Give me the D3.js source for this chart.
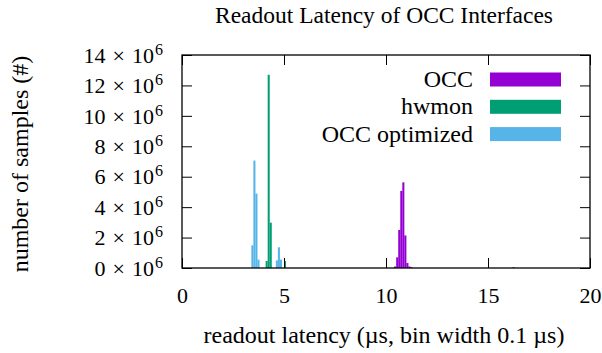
<!DOCTYPE html>
<html><head><meta charset="utf-8">
<script src="https://cdn.jsdelivr.net/npm/d3@7"></script>
<style>body{margin:0;background:#fff}
svg text, svg .tick text{font-family:"Liberation Serif","Times New Roman",Times,"DejaVu Serif",serif !important;fill:#000}</style>
</head><body><svg id="c" width="602" height="353"></svg>
<script>
// bin left edges (µs) and counts, bin width 0.1 µs
const occBins = [10.4, 10.5, 10.6, 10.7, 10.8, 10.9, 11.0, 11.1, 11.2, 16.2];
const occCounts = [0.1e6, 0.7e6, 2.5e6, 5.07e6, 5.63e6, 2.14e6, 0.33e6, 0.1e6, 0.05e6, 0.05e6];
const hwmonBins = [4.1, 4.2, 4.3, 5.0];
const hwmonCounts = [0.46e6, 12.7e6, 2.98e6, 0.45e6];
const optBins = [3.4, 3.5, 3.6, 3.7, 4.6, 4.7, 4.8];
const optCounts = [1.49e6, 7.06e6, 4.89e6, 0.55e6, 0.5e6, 1.36e6, 0.55e6];
const seriesNames = ["OCC", "hwmon", "OCC optimized"];
const seriesColors = ["#9400d3", "#009e73", "#56b4e9"];
const xTicks = [0, 5, 10, 15, 20];
const yTicks = [0, 2, 4, 6, 8, 10, 12, 14]; // ×10^6
const binWidth = 0.1;

const svg = d3.select("#c");
const L = 182, R = 590, T = 55, B = 268;
const x = d3.scaleLinear().domain([0, 20]).range([L, R]);
const y = d3.scaleLinear().domain([0, 14e6]).range([B, T]);

const series = [
  {bins: occBins, counts: occCounts},
  {bins: hwmonBins, counts: hwmonCounts},
  {bins: optBins, counts: optCounts}
];
series.forEach((s, i) => {
  svg.append("g").selectAll("rect").data(s.bins.map((b, j) => [b, s.counts[j]]))
    .join("rect")
    .attr("x", d => x(d[0]))
    .attr("width", d => x(d[0] + binWidth) - x(d[0]))
    .attr("y", d => y(d[1]))
    .attr("height", d => y(0) - y(d[1]))
    .attr("fill", seriesColors[i]);
});

const tl = 10;
const gx = svg.append("g").attr("transform", `translate(0,${B})`)
  .call(d3.axisBottom(x).tickValues(xTicks).tickSizeInner(-tl).tickSizeOuter(0).tickPadding(0).tickFormat(""));
const gxt = svg.append("g").attr("transform", `translate(0,${T})`)
  .call(d3.axisTop(x).tickValues(xTicks).tickSizeInner(-tl).tickSizeOuter(0).tickFormat(""));
const gy = svg.append("g").attr("transform", `translate(${L},0)`)
  .call(d3.axisLeft(y).tickValues(yTicks.map(v => v * 1e6)).tickSizeInner(-tl).tickSizeOuter(0).tickFormat(""));
const gyr = svg.append("g").attr("transform", `translate(${R},0)`)
  .call(d3.axisRight(y).tickValues(yTicks.map(v => v * 1e6)).tickSizeInner(-tl).tickSizeOuter(0).tickFormat(""));
[gx, gxt, gy, gyr].forEach(g => {
  g.attr("font-family", null);
  g.select(".domain").remove();
  g.selectAll(".tick line").attr("stroke", "#000").attr("stroke-width", 1);
});
gx.selectAll(".tick").append("text").attr("y", 303).attr("x", 0).attr("transform", `translate(0,${-B})`)
  .attr("text-anchor", "middle").style("font-size", "22px").text(d => d);
gy.selectAll(".tick").each(function(d) {
  const t = d3.select(this).append("text").attr("x", -19).attr("dy", "0.33em")
    .attr("text-anchor", "end").style("font-size", "22px");
  t.append("tspan").text(`${d / 1e6}`);
  t.append("tspan").attr("dx", 7).text("×");
  t.append("tspan").attr("dx", 7).text("10");
  t.append("tspan").attr("dx", 1).attr("dy", "-0.5em").style("font-size", "16px").text("6");
});

svg.append("rect").attr("x", L).attr("y", T).attr("width", R - L).attr("height", B - T)
  .attr("fill", "none").attr("stroke", "#000").attr("stroke-width", 1.3);

svg.append("text").attr("x", 384).attr("y", 23).attr("text-anchor", "middle")
  .style("font-size", "23.5px").text("Readout Latency of OCC Interfaces");
svg.append("text").attr("x", 384).attr("y", 343).attr("text-anchor", "middle")
  .style("font-size", "24px").text("readout latency (µs, bin width 0.1 µs)");
svg.append("text").attr("transform", "translate(28,164) rotate(-90)").attr("text-anchor", "middle")
  .style("font-size", "24px").text("number of samples (#)");

seriesNames.forEach((n, i) => {
  const base = 87 + i * 27.3;
  svg.append("text").attr("x", 473).attr("y", base).attr("text-anchor", "end")
    .style("font-size", "24px").text(n);
  svg.append("rect").attr("x", 490).attr("y", base - 14.5).attr("width", 71).attr("height", 14)
    .attr("fill", seriesColors[i]);
});
</script></body></html>
